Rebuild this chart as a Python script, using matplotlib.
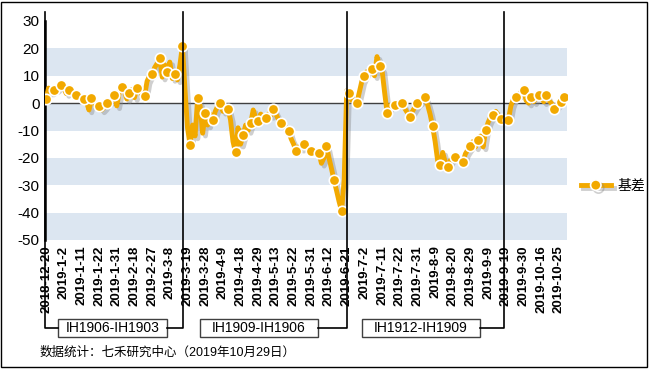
import numpy as np
import matplotlib.pyplot as plt
import matplotlib.patheffects as pe
from matplotlib.patches import Rectangle
from matplotlib.lines import Line2D
from matplotlib.transforms import blended_transform_factory

plt.rcParams['font.family'] = ['Liberation Sans', 'Noto Sans CJK SC', 'DejaVu Sans']

# Data
tick_labels = ['2018-12-20', '2019-1-2', '2019-1-11', '2019-1-22', '2019-1-31',
               '2019-2-18', '2019-2-27', '2019-3-8', '2019-3-19', '2019-3-28',
               '2019-4-9', '2019-4-18', '2019-4-29', '2019-5-13', '2019-5-22',
               '2019-5-31', '2019-6-12', '2019-6-21', '2019-7-2', '2019-7-11',
               '2019-7-22', '2019-7-31', '2019-8-9', '2019-8-20', '2019-8-29',
               '2019-9-9', '2019-9-19', '2019-9-30', '2019-10-16', '2019-10-25']

basis = [1.5, 5.5, 4.0, 4.8, 5.0, 6.0, 6.8, 5.5, 3.5, 4.8, 4.0, 3.2,
         2.9, 2.0, 1.8, 1.4, 0.5, -2.5, 1.8, 0.5, -1.5, -0.9, -2.5, -1.5,
         -0.1, 0.5, 1.5, 2.9, -1.0, 4.0, 5.8, 4.5, 1.5, 3.8, 5.0, 2.0,
         5.6, 4.5, 3.0, 2.6, 8.0, 10.0, 10.7, 13.0, 14.5, 16.5, 9.5, 14.0,
         11.3, 15.0, 9.0, 10.8, 8.5, 14.0, 21.0, 5.0, -9.0, -15.2, -8.0, -12.0,
         1.7, -1.0, -11.0, -3.5, -8.0, -4.0, -6.0, -3.0, -1.0, 0.1, -3.0, -1.0,
         -2.0, -6.0, -14.0, -18.0, -9.0, -15.0, -11.7, -8.0, -10.0, -7.3, -2.5, -5.5,
         -6.6, -4.0, -5.0, -5.6, -4.0, -4.5, -2.2, -4.0, -6.0, -7.4, -8.0, -9.0,
         -10.1, -13.0, -15.0, -17.6, -16.0, -16.5, -15.1, -16.0, -16.5, -17.5, -17.0, -18.0,
         -18.1, -22.0, -20.0, -15.6, -20.0, -24.0, -28.2, -32.0, -36.0, -39.4, -28.0, 4.5,
         3.6, 1.0, 0.5, -0.1, 4.0, 8.0, 10.0, 11.5, 12.0, 12.5, 10.0, 17.0,
         13.6, 12.0, 4.0, -3.5, -1.0, -0.5, -0.7, -0.3, 0.2, -0.1, -2.0, -3.5,
         -5.2, -3.0, -1.5, -0.1, 0.5, 1.5, 2.1, -0.5, -4.0, -8.4, -14.0, -21.0,
         -22.5, -18.0, -21.5, -23.4, -21.0, -20.0, -19.7, -20.5, -21.0, -21.5, -18.5, -17.0,
         -15.7, -14.0, -16.0, -13.5, -12.0, -16.0, -9.9, -7.0, -5.0, -4.5, -3.0, -4.5,
         -5.9, -6.0, -6.5, -6.1, -1.0, 1.5, 2.4, 3.0, 4.0, 4.8, 1.0, 0.0,
         2.2, 0.5, 2.0, 2.8, 2.0, 0.5, 2.9, 1.0, 0.0, -2.2, -1.0, 0.0,
         0.5, 2.1]

box_labels = ['IH1906-IH1903', 'IH1909-IH1906', 'IH1912-IH1909']
y_ticks = list(range(-50, 31, 10))
bands = [(10, 20), (-10, 0), (-30, -20), (-50, -40)]

orange = '#F2A900'
shadow = [pe.SimpleLineShadow(offset=(2, -2), shadow_color='#888888', alpha=0.4),
          pe.Normal()]

fig = plt.figure(figsize=(6.5, 3.7), dpi=100)
ax = fig.add_axes([45 / 650, 1 - 240 / 370, 522 / 650, 219 / 370])

for lo, hi in bands:
    ax.axhspan(lo, hi, color='#DCE6F1', lw=0, zorder=0)
ax.axhline(0, color='#404040', lw=1, zorder=1)

x = np.arange(len(basis))
# thick line with soft shadow, then the markers on top
ax.plot(x, basis, color=orange, lw=3.5, zorder=3, path_effects=shadow)
ax.plot(x, basis, ls='none', marker='o', ms=7.5, mfc=orange, mec='white', mew=1.2,
        markevery=list(range(0, len(basis), 3)) + [len(basis) - 1], zorder=4)

ax.set_xlim(-0.4, 206.2)
ax.set_ylim(-50, 30)
ax.set_yticks(y_ticks)
ax.set_yticklabels([str(v) for v in y_ticks], fontsize=11)
ax.set_xticks(range(0, len(basis), 7))
ax.set_xticklabels(tick_labels, rotation=90, fontsize=9.5, fontweight='bold')
ax.tick_params(length=0, pad=4)

for s in ['top', 'right', 'bottom']:
    ax.spines[s].set_visible(False)
ax.spines['left'].set_linewidth(1.8)

# contract roll brackets
tr = blended_transform_factory(ax.transData, ax.transAxes)
y_top, y_mid = 1.041, -0.402
box_h = 0.082
boxes = [(4.75, 47.9), (60.9, 107.6), (125.0, 171.7)]
rolls = [54.2, 119.3, 181.2]

ax.plot([-0.4, -0.4, 4.75], [y_top, y_mid, y_mid], color='black', lw=1.2,
        transform=tr, clip_on=False)
for (x0, x1), xr, lab in zip(boxes, rolls, box_labels):
    ax.plot([x1, xr, xr], [y_mid, y_mid, y_top], color='black', lw=1.2,
            transform=tr, clip_on=False, zorder=5)
    ax.add_patch(Rectangle((x0, y_mid - box_h / 2), x1 - x0, box_h, transform=tr,
                           facecolor='white', edgecolor='#404040', lw=1, clip_on=False))
    ax.text((x0 + x1) / 2, y_mid, lab, transform=tr, ha='center', va='center',
            fontsize=10)

handle = Line2D([], [], color=orange, lw=3.5, marker='o', ms=7.5, mfc=orange,
                mec='white', mew=1.2, path_effects=shadow)
ax.legend([handle], ['基差'], loc='center left',
          bbox_to_anchor=(568 / 650, 1 - 186 / 370),
          bbox_transform=fig.transFigure, frameon=False, fontsize=10,
          handlelength=2.2, handletextpad=0.5)

fig.text(40 / 650, 1 - 353 / 370, '数据统计：七禾研究中心（2019年10月29日）',
         fontsize=9, va='center')

fig.add_artist(Rectangle((1 / 650, 1 - 367 / 370), 646 / 650, 365 / 370,
                         transform=fig.transFigure, fill=False, edgecolor='black', lw=1))

fig.savefig('out.png', dpi=100)
